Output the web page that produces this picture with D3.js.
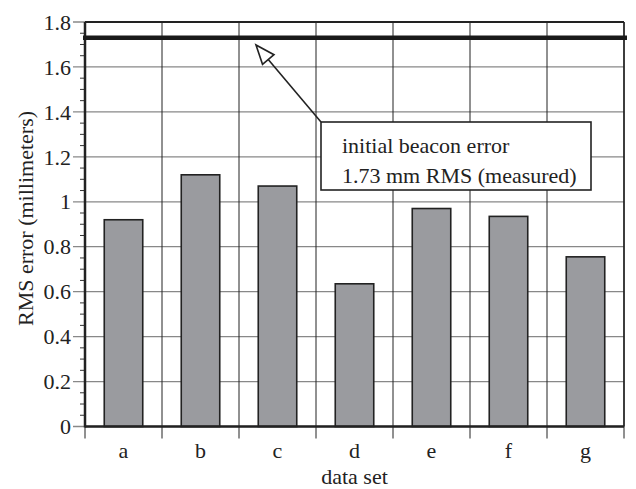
<!DOCTYPE html>
<html>
<head>
<meta charset="utf-8">
<script src="https://cdn.jsdelivr.net/npm/d3@7"></script>
<style>
  body { margin: 0; background: #fff; }
  text { font-family: "Liberation Serif", "DejaVu Serif", serif; fill: #222; }
</style>
</head>
<body>
<svg id="chart" width="636" height="489"></svg>
<script>
var categories = ["a", "b", "c", "d", "e", "f", "g"];
var rmsError = [0.92, 1.12, 1.07, 0.635, 0.97, 0.935, 0.755];
var yTicks = [0, 0.2, 0.4, 0.6, 0.8, 1, 1.2, 1.4, 1.6, 1.8];
var beaconError = 1.73;
var noteLines = ["initial beacon error", "1.73 mm RMS (measured)"];

var svg = d3.select("#chart");
var plotL = 85, plotR = 624, plotT = 22, plotB = 426.5;

var x = d3.scaleBand().domain(categories).range([plotL, plotR]).padding(0);
var y = d3.scaleLinear().domain([0, 1.8]).range([plotB, plotT]);

// horizontal grid + major ticks
svg.append("g").selectAll("line")
	.data(yTicks).enter().append("line")
	.attr("x1", plotL - 12).attr("x2", plotR)
	.attr("y1", function (d) { return y(d); })
	.attr("y2", function (d) { return y(d); })
	.style("stroke", "#888").style("stroke-width", 1.3);

// minor ticks every 0.05
var minor = d3.range(0, 36).map(function (i) { return i * 0.05; })
	.filter(function (d, i) { return i % 4 != 0; });
svg.append("g").selectAll("line")
	.data(minor).enter().append("line")
	.attr("x1", plotL - 5).attr("x2", plotL)
	.attr("y1", function (d) { return y(d); })
	.attr("y2", function (d) { return y(d); })
	.style("stroke", "#333").style("stroke-width", 1);

// vertical grid lines at band edges
var edges = categories.map(function (c) { return x(c); }).concat([plotR]);
svg.append("g").selectAll("line")
	.data(edges).enter().append("line")
	.attr("x1", function (d) { return d; })
	.attr("x2", function (d) { return d; })
	.attr("y1", plotT).attr("y2", plotB + 12)
	.style("stroke", "#222").style("stroke-width", 1);

// y tick labels
svg.append("g").selectAll("text")
	.data(yTicks).enter().append("text")
	.attr("x", plotL - 14)
	.attr("y", function (d) { return y(d); })
	.attr("dy", "0.35em")
	.attr("text-anchor", "end")
	.style("font-size", "22px")
	.text(function (d) { return d; });

// bars
var bw = x.bandwidth() * 0.5;
svg.append("g").selectAll("rect")
	.data(rmsError).enter().append("rect")
	.attr("x", function (d, i) { return x(categories[i]) + (x.bandwidth() - bw) / 2; })
	.attr("y", function (d) { return y(d); })
	.attr("width", bw)
	.attr("height", function (d) { return y(0) - y(d); })
	.style("fill", "#9a9b9f")
	.style("stroke", "#222")
	.style("stroke-width", 1.6);

// frame
svg.append("line").attr("x1", plotL).attr("x2", plotR).attr("y1", plotT).attr("y2", plotT)
	.style("stroke", "#222").style("stroke-width", 2);
svg.append("line").attr("x1", plotR).attr("x2", plotR).attr("y1", plotT).attr("y2", plotB)
	.style("stroke", "#222").style("stroke-width", 1.5);
svg.append("line").attr("x1", plotL).attr("x2", plotL).attr("y1", plotT).attr("y2", plotB + 1)
	.style("stroke", "#222").style("stroke-width", 2.5);
svg.append("line").attr("x1", plotL).attr("x2", plotR).attr("y1", plotB).attr("y2", plotB)
	.style("stroke", "#222").style("stroke-width", 2.5);

// beacon error line
svg.append("line")
	.attr("x1", plotL - 2).attr("x2", plotR + 3)
	.attr("y1", y(beaconError)).attr("y2", y(beaconError))
	.style("stroke", "#1a1a1a").style("stroke-width", 4.5);

// category labels
svg.append("g").selectAll("text")
	.data(categories).enter().append("text")
	.attr("x", function (d) { return x(d) + x.bandwidth() / 2; })
	.attr("y", 458)
	.attr("text-anchor", "middle")
	.style("font-size", "22px")
	.text(function (d) { return d; });

// axis titles
svg.append("text")
	.attr("x", (plotL + plotR) / 2).attr("y", 484)
	.attr("text-anchor", "middle")
	.style("font-size", "22px")
	.text("data set");
svg.append("text")
	.attr("transform", "translate(33," + 218.5 + ") rotate(-90)")
	.attr("text-anchor", "middle")
	.style("font-size", "22px")
	.text("RMS error (millimeters)");

// annotation box + arrow
var boxX = 321, boxY = 122, boxW = 270, boxH = 68;
var tipX = 256, tipY = 45;
var ang = Math.atan2(boxY - tipY, boxX - tipX);
var hl = 19, hw = 7.5;
var bx = tipX + hl * Math.cos(ang), by = tipY + hl * Math.sin(ang);
svg.append("line")
	.attr("x1", bx).attr("y1", by).attr("x2", boxX).attr("y2", boxY)
	.style("stroke", "#222").style("stroke-width", 1.6);
svg.append("path")
	.attr("d", "M" + tipX + "," + tipY +
		"L" + (bx - hw * Math.sin(ang)) + "," + (by + hw * Math.cos(ang)) +
		"L" + (bx + hw * Math.sin(ang)) + "," + (by - hw * Math.cos(ang)) + "Z")
	.style("fill", "#fff").style("stroke", "#222").style("stroke-width", 1.6);

svg.append("rect")
	.attr("x", boxX).attr("y", boxY).attr("width", boxW).attr("height", boxH)
	.style("fill", "#fff").style("stroke", "#222").style("stroke-width", 1.6);
svg.append("g").selectAll("text")
	.data(noteLines).enter().append("text")
	.attr("x", 342)
	.attr("y", function (d, i) { return 153 + i * 30; })
	.style("font-size", "22px")
	.text(function (d) { return d; });
</script>
</body>
</html>
